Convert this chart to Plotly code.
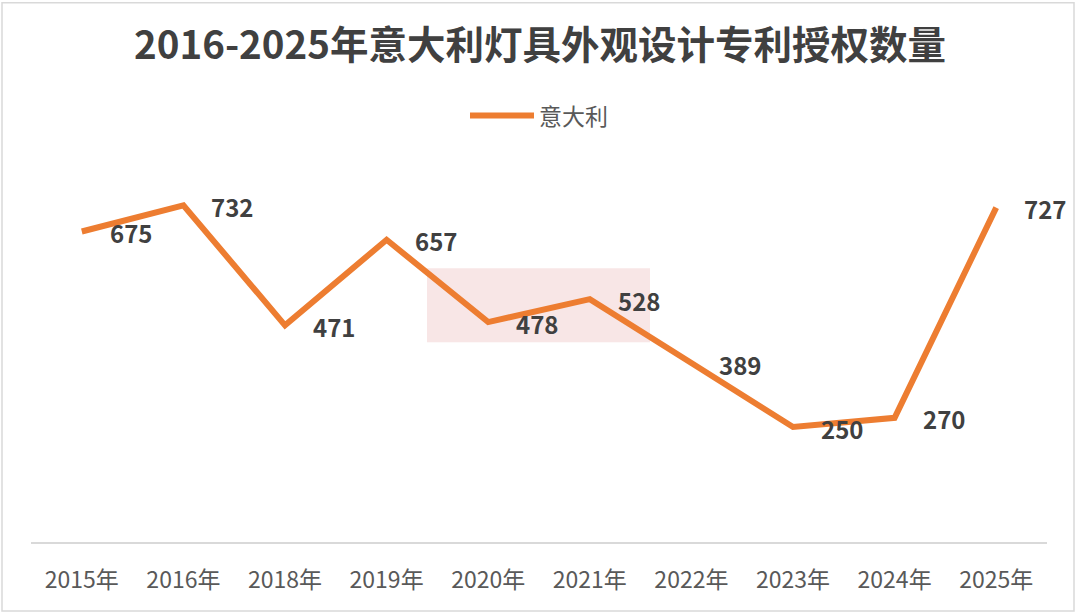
import plotly.graph_objects as go

years = ["2015年", "2016年", "2018年", "2019年", "2020年", "2021年", "2022年", "2023年", "2024年", "2025年"]
values = [675, 732, 471, 657, 478, 528, 389, 250, 270, 727]
series_name = "意大利"
title_text = "2016-2025年意大利灯具外观设计专利授权数量"

ORANGE = "#ED7D31"
CJK = "Noto Sans CJK SC"

fig = go.Figure()
fig.add_trace(go.Scatter(
    x=years, y=values, mode="lines", name=series_name,
    line=dict(color=ORANGE, width=6),
    hoverinfo="x+y",
))

for x, v in zip(years, values):
    fig.add_annotation(
        x=x, y=v, xref="x", yref="y", text=str(v), showarrow=False,
        xanchor="left", yanchor="middle", xshift=26, yshift=-1,
        font=dict(family=CJK, size=24, color="#404040", weight="bold"),
    )

# watermark-like pink badge
fig.add_shape(type="rect", xref="paper", yref="paper",
              x0=(427 - 31) / 1016, x1=(650 - 31) / 1016,
              y0=(542 - 342) / 368.5, y1=(542 - 268) / 368.5,
              fillcolor="rgba(240,200,200,0.45)", line=dict(width=0), layer="below")

# outer light border
fig.add_shape(type="rect", xref="paper", yref="paper",
              x0=(2 - 31) / 1016, x1=(1074 - 31) / 1016,
              y0=(542 - 611) / 368.5, y1=(542 - 2) / 368.5,
              line=dict(color="#D9D9D9", width=1.5), fillcolor="rgba(0,0,0,0)", layer="below")

fig.update_layout(
    width=1080, height=614,
    margin=dict(l=31, r=33, t=173.5, b=72),
    paper_bgcolor="white", plot_bgcolor="white",
    title=dict(text=title_text, x=0.5, xanchor="center", y=1 - 46 / 614, yanchor="middle",
               yref="container",
               font=dict(family=CJK, size=38.5, color="#404040", weight="bold")),
    legend=dict(orientation="h", x=0.5, xanchor="center", y=(542 - 115) / 368.5, yanchor="middle",
                font=dict(family=CJK, size=23, color="#595959"), itemwidth=64,
                bgcolor="rgba(0,0,0,0)"),
    showlegend=True,
    xaxis=dict(type="category", range=[-0.5, len(years) - 0.5], showgrid=False, showline=True,
               linecolor="#D9D9D9", linewidth=2,
               ticks="", tickfont=dict(family=CJK, size=23, color="#595959"), ticklabelstandoff=16,
               zeroline=False),
    yaxis=dict(range=[0, 800], visible=False, showgrid=False, zeroline=False),
)

fig.write_html("out.html")
